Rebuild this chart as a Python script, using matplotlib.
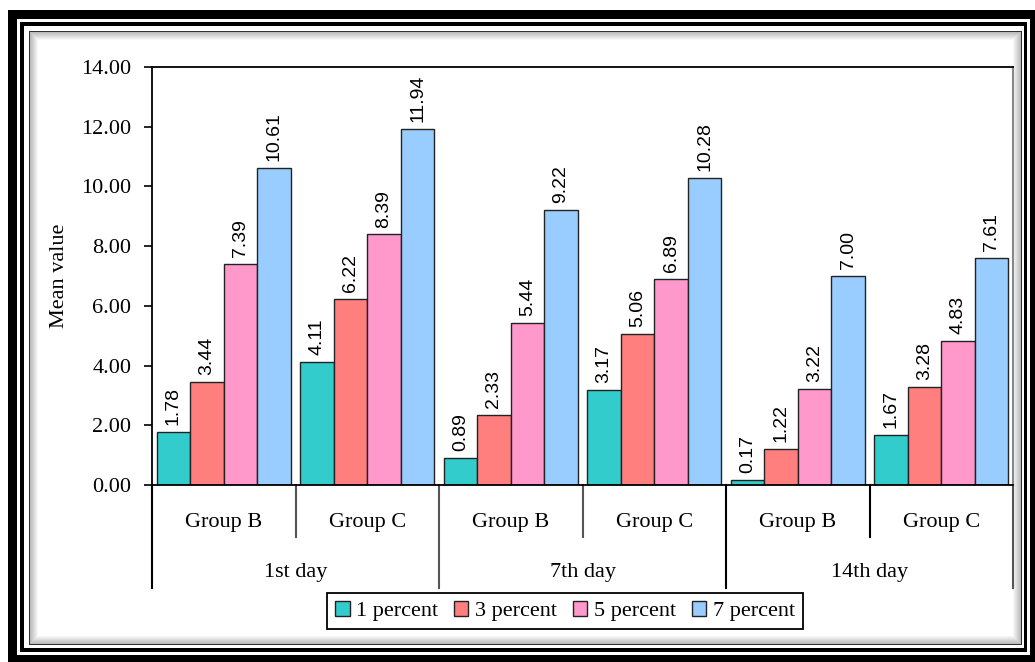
import matplotlib
matplotlib.use("Agg")
import matplotlib.pyplot as plt
from matplotlib.patches import Rectangle
from matplotlib.lines import Line2D
import numpy as np

# ---- data ----
days = ["1st day", "7th day", "14th day"]
groups = ["Group B", "Group C"]
series_names = ["1 percent", "3 percent", "5 percent", "7 percent"]
pct1 = [1.78, 4.11, 0.89, 3.17, 0.17, 1.67]
pct3 = [3.44, 6.22, 2.33, 5.06, 1.22, 3.28]
pct5 = [7.39, 8.39, 5.44, 6.89, 3.22, 4.83]
pct7 = [10.61, 11.94, 9.22, 10.28, 7.00, 7.61]
colors = ["#33CCCC", "#FF7F7F", "#FF99CC", "#99CCFF"]
yticks = [0, 2, 4, 6, 8, 10, 12, 14]

SERIF = ["Liberation Serif", "DejaVu Serif"]
SANS = ["Liberation Sans", "DejaVu Sans"]

W, H = 1035, 662
fig = plt.figure(figsize=(W / 100, H / 100), dpi=100)
fig.patch.set_facecolor("white")


def px_rect(x0, y0, x1, y1, **kw):
    """Rectangle given in pixel coords with origin at the top-left."""
    r = Rectangle((x0 / W, 1 - y1 / H), (x1 - x0) / W, (y1 - y0) / H,
                  transform=fig.transFigure, **kw)
    fig.add_artist(r)
    return r


# ---- decorative double frame ----
px_rect(8, 10, W + 5, H + 5, facecolor="black", edgecolor="none", zorder=-10)
px_rect(17, 19, 1030, 655, facecolor="white", edgecolor="none", zorder=-9)
px_rect(20, 22, 1027, 652, facecolor="black", edgecolor="none", zorder=-8)
px_rect(24, 26, 1024, 648, facecolor="white", edgecolor="none", zorder=-7)
px_rect(29, 31, 1022, 645, facecolor="#303030", edgecolor="none", zorder=-6)
# soft inner shadow of the chart panel
n_sh = 9
for i in range(n_sh):
    g = 0.70 + 0.30 * (i + 1) / n_sh
    px_rect(30 + i, 32 + i, 1021 - i, 644 - i,
            facecolor=(g, g, g), edgecolor="none", zorder=-5 + i * 0.01)
px_rect(30 + n_sh, 32 + n_sh, 1021 - n_sh, 644 - n_sh,
        facecolor="white", edgecolor="none", zorder=-4)

# ---- axes ----
left, right, top, bottom = 152, 1013, 67, 485
ax = fig.add_axes([left / W, 1 - bottom / H, (right - left) / W, (bottom - top) / H])
ax.set_facecolor("white")

n = len(pct1)
x = np.arange(n) + 0.5
gap = 0.065
bw = (1 - gap) / 4
all_series = [pct1, pct3, pct5, pct7]
for k, (vals, col) in enumerate(zip(all_series, colors)):
    xs = x - 0.5 + gap / 2 + bw * (k + 0.5)
    ax.bar(xs, vals, width=bw, color=col, edgecolor="#222222", linewidth=1.0,
           zorder=2, label=series_names[k])
    for xi, v in zip(xs, vals):
        ax.annotate(f"{v:.2f}", (xi, v), xytext=(0, 5), textcoords="offset points",
                    rotation=90, ha="center", va="bottom", fontsize=14,
                    family=SANS, color="black", zorder=3,
                    bbox=dict(boxstyle="square,pad=0.08", fc="white", ec="none"))

ax.set_xlim(0, n)
ax.set_ylim(0, 14)
ax.set_yticks(yticks)
ax.set_yticklabels([f"{t:.2f}" for t in yticks], family=SERIF, fontsize=16)
ax.tick_params(axis="y", direction="out", length=6, width=1.2, pad=9, color="black")
ax.set_xticks([])
for s in ["left", "top", "bottom"]:
    ax.spines[s].set_color("black")
    ax.spines[s].set_linewidth(1.3)
ax.spines["right"].set_color("#888888")
ax.spines["right"].set_linewidth(1.5)

ax.set_ylabel("Mean value", family=SERIF, fontsize=16, labelpad=9)

# ---- two-level category axis ----
trans = ax.get_xaxis_transform()
short_y = -(537 - bottom) / (bottom - top)
long_y = -(588 - bottom) / (bottom - top)
grp_y = -(522 - bottom) / (bottom - top)
day_y = -(573 - bottom) / (bottom - top)
for i in range(n + 1):
    y_end = long_y if i % 2 == 0 else short_y
    col = "black" if i in (0, 4, 5) else "#555555"
    ax.add_line(Line2D([i, i], [0, y_end], transform=trans, color=col,
                       linewidth=1.5, clip_on=False))
for i in range(n):
    ax.text(i + 0.5, grp_y, groups[i % 2], transform=trans, ha="center",
            va="center", family=SERIF, fontsize=16)
for d, name in enumerate(days):
    ax.text(2 * d + 1, day_y, name, transform=trans, ha="center",
            va="center", family=SERIF, fontsize=16)

# ---- legend ----
leg = fig.legend(loc="center", bbox_to_anchor=(565 / W, 1 - 611 / H), ncol=4,
                 prop={"family": SERIF, "size": 16}, frameon=True,
                 fancybox=False, edgecolor="black", framealpha=1,
                 handlelength=0.65, handleheight=0.65, handletextpad=0.3,
                 columnspacing=0.7, borderpad=0.35, borderaxespad=0)
leg.get_frame().set_linewidth(1.3)

fig.savefig("out.png", dpi=100, facecolor="white")
